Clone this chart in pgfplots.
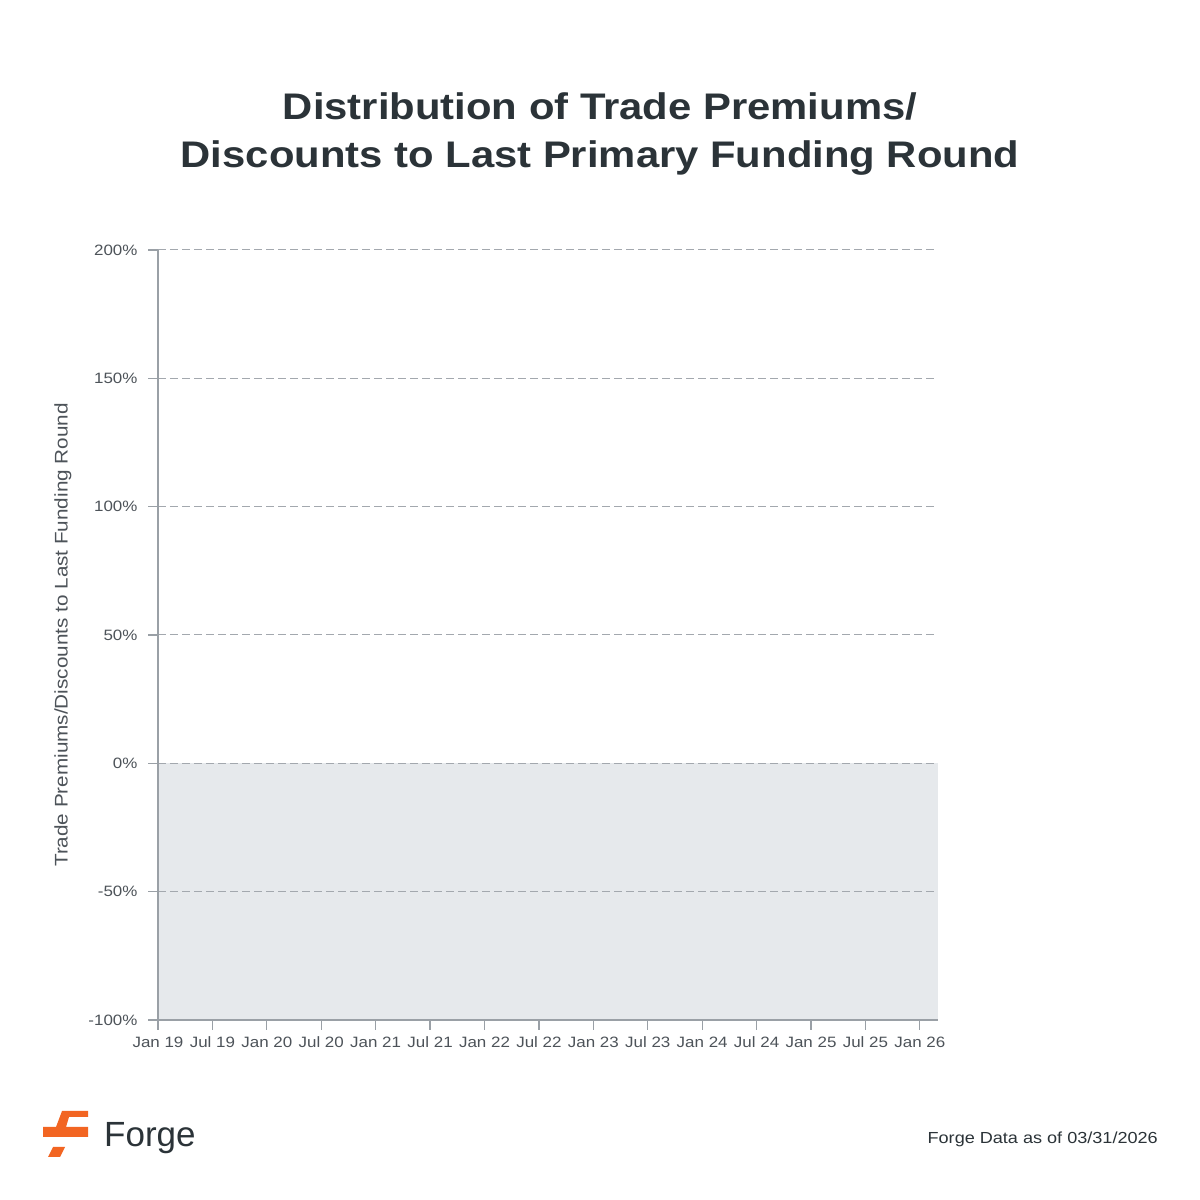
\documentclass[border=0pt]{standalone}
\usepackage{pgfplots}
\pgfplotsset{compat=1.18}
\usepackage{fontspec}
\setmainfont{Liberation Sans}[FakeStretch=1.13]
\newfontfamily\plainfont{Liberation Sans}
\definecolor{txt}{HTML}{2B3338}
\definecolor{tick}{HTML}{4D5359}
\definecolor{axisc}{HTML}{9AA0A6}
\definecolor{gridc}{HTML}{A3A8AE}
\definecolor{shade}{HTML}{E6E9EC}
\definecolor{forge}{HTML}{F26522}
\begin{document}
\begin{tikzpicture}[x=1pt,y=1pt]
\fill[white] (0pt,0pt) rectangle (1200pt,1200pt);
% title
\node[anchor=base, text=txt, font=\fontsize{37}{44}\selectfont\bfseries] at (600pt,1080pt) {Distribution of Trade Premiums/};
\node[anchor=base, text=txt, font=\fontsize{37}{44}\selectfont\bfseries] at (600pt,1032pt) {Discounts to Last Primary Funding Round};
\begin{axis}[
  at={(158pt,180pt)}, anchor=south west,
  scale only axis, width=780pt, height=770pt,
  xmin=0, xmax=86, ymin=-100, ymax=200,
  axis on top,
  axis x line*=bottom, axis y line*=left,
  axis line style={draw=axisc, line width=1.4pt, -},
  xtick={0,6,12,18,24,30,36,42,48,54,60,66,72,78,84},
  xticklabels={Jan 19,Jul 19,Jan 20,Jul 20,Jan 21,Jul 21,Jan 22,Jul 22,Jan 23,Jul 23,Jan 24,Jul 24,Jan 25,Jul 25,Jan 26},
  ytick={-100,-50,0,50,100,150,200},
  yticklabels={-100\%,-50\%,0\%,50\%,100\%,150\%,200\%},
  tick align=outside, major tick length=10pt,
  tick style={draw=axisc, line width=1.2pt},
  ticklabel style={text=tick, font=\fontsize{15}{18}\selectfont},
  xticklabel style={yshift=-3pt},
  yticklabel style={xshift=-7pt},
  ymajorgrids,
  grid style={draw=gridc, line width=1pt, dash pattern=on 8pt off 4pt},
  ylabel={Trade Premiums/Discounts to Last Funding Round},
  ylabel style={at={(axis description cs:-0.122,0.5)}, anchor=center, text=tick, font=\fontsize{18.3}{22}\selectfont},
  clip=false,
]
\addplot[fill=shade, draw=none] coordinates {(0,0) (86,0) (86,-100) (0,-100)} -- cycle;
\end{axis}
% logo
\fill[forge] (62pt,89pt) -- (88pt,89pt) -- (88pt,83pt) -- (69pt,83pt) -- (66pt,73pt) -- (88pt,73pt) -- (88pt,63pt) -- (43pt,63pt) -- (43pt,73pt) -- (56pt,73pt) -- cycle;
\fill[forge] (48pt,43pt) -- (60pt,43pt) -- (65pt,53pt) -- (53pt,53pt) -- cycle;
\node[anchor=base west, inner sep=0pt, text=txt, font=\plainfont\fontsize{35}{42}\selectfont] at (104pt,53pt) {Forge};
\node[anchor=base east, inner sep=0pt, text=txt, font=\fontsize{16}{19}\selectfont] at (1158pt,56pt) {Forge Data as of 03/31/2026};
\end{tikzpicture}
\end{document}
